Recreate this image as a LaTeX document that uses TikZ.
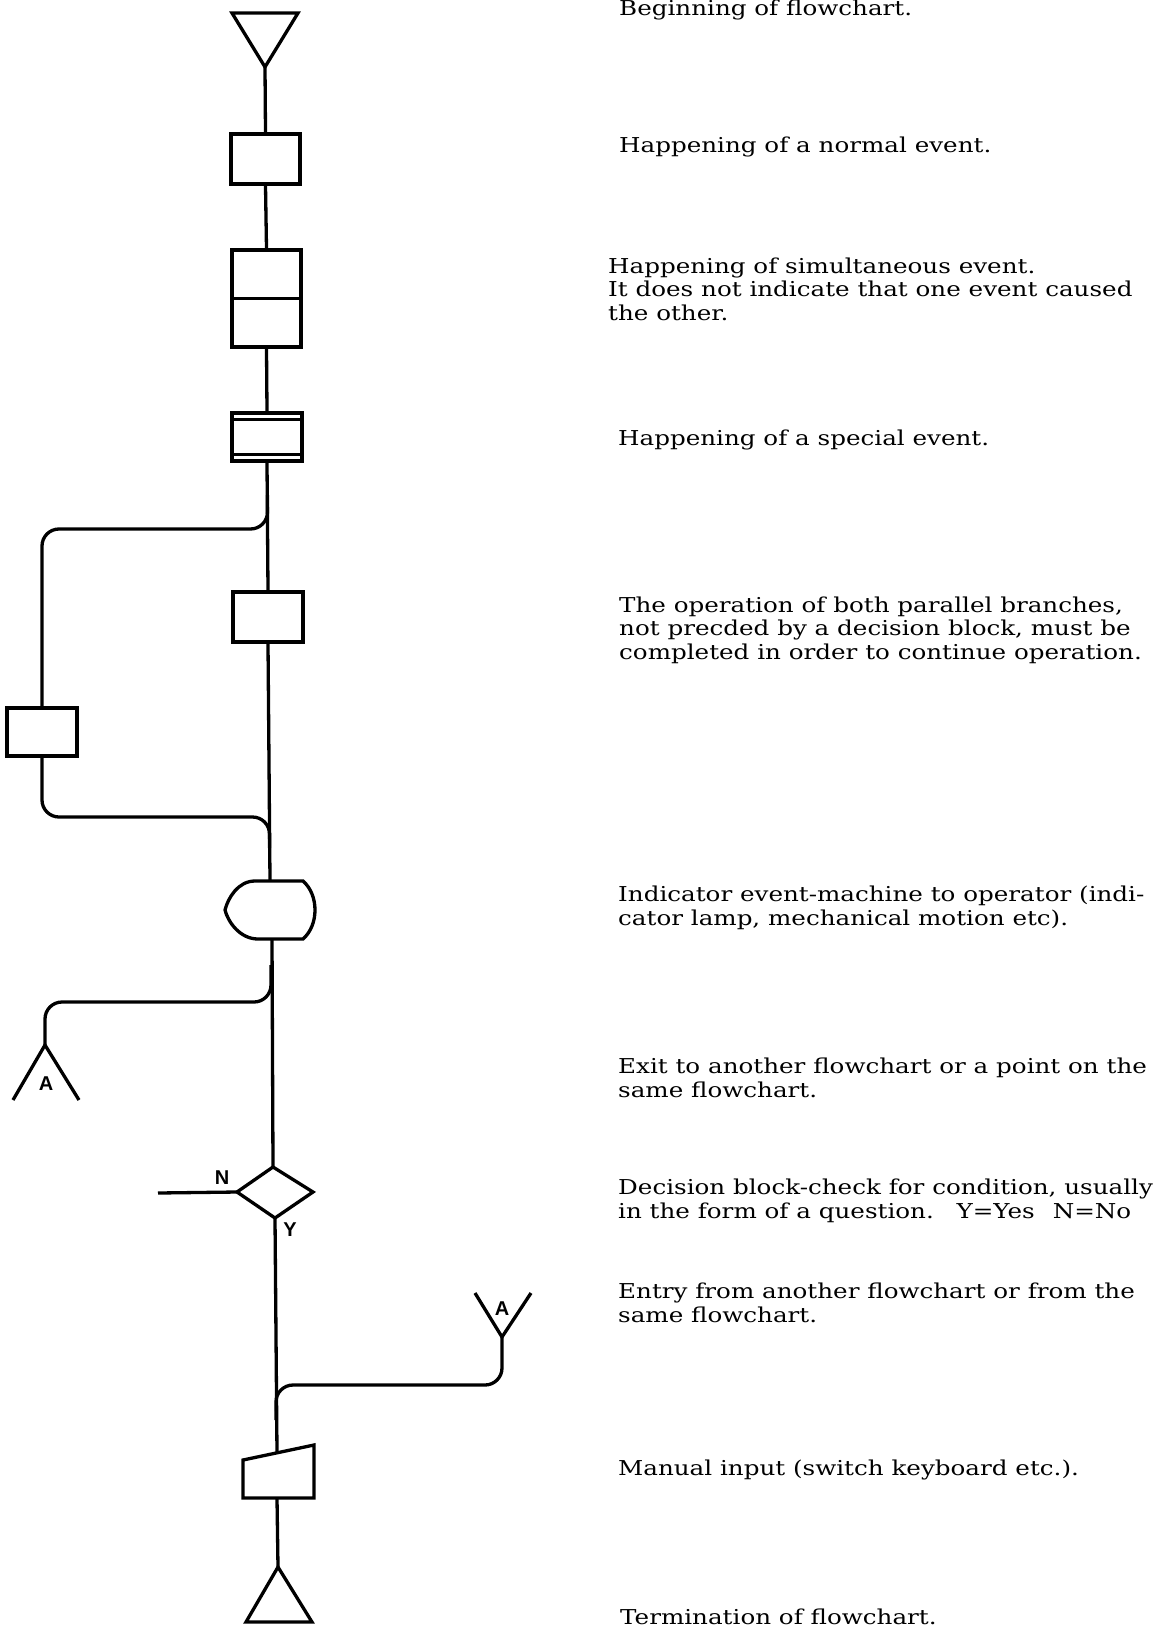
\documentclass[tikz,border=0pt]{standalone}
\usepackage{fontspec}
\setmainfont{DejaVu Serif}[FakeStretch=1.2]
\newfontfamily\labelfont{Liberation Sans}[BoldFont={Liberation Sans Bold}]
\begin{document}
\begin{tikzpicture}[x=1pt,y=-1pt,
  flow/.style={line width=3.3pt},
  box/.style={draw, line width=3.3pt, inner sep=0pt, minimum width=70, minimum height=50},
  desc/.style={anchor=base west, inner sep=0pt, align=left,
               font=\fontsize{20.5}{23.5}\selectfont},
  tag/.style={inner sep=0pt, font=\labelfont\bfseries\fontsize{20}{20}\selectfont}]
\useasboundingbox (0,0) rectangle (1174,1630);

% --- start symbol
\coordinate (stL) at (232,13);
\coordinate (stR) at (298,13);
\coordinate (start) at (265,67);
\draw[flow, line join=miter] (stL) -- (stR) -- (start) -- cycle;

% --- normal event
\node[box, minimum width=69] (b1) at (265.5,159) {};
% --- simultaneous events
\node[box, minimum width=69, minimum height=97] (b2) at (266.5,298.5) {};
\draw[flow] (b2.west) -- (b2.east);
% --- special event
\node[box, minimum height=48] (b3) at (267,437) {};
\draw[flow] ([yshift=-8pt]b3.north west) -- ([yshift=-8pt]b3.north east);
\draw[flow] ([yshift=8pt]b3.south west) -- ([yshift=8pt]b3.south east);

% --- parallel branches
\node[box] (rb) at (268,617) {};
\node[box, minimum height=48] (lb) at (42,732) {};
\coordinate (fork1) at (267.5,495);
\coordinate (join1) at (269.5,848);
\coordinate (c1) at (42,529);
\coordinate (c2) at (269.5,817);

% --- indicator
\coordinate (indN) at (270,881);
\coordinate (indS) at (272,939);
\coordinate (indTip) at (225,910);
\draw[flow] (303,881) -- (255,881)
  .. controls (238,881) and (228,898) .. (indTip)
  .. controls (228,922) and (240,939) .. (258,939)
  -- (303,939)
  .. controls (319,925) and (319,895) .. (303,881) -- cycle;

% --- exit connector
\coordinate (fork2) at (271,965);
\coordinate (c3) at (45,1002);
\coordinate (exA) at (45,1045);
\coordinate (exL) at (13,1100);
\coordinate (exR) at (79,1100);
\node[tag] (exLabel) at (46,1084) {A};

% --- decision
\coordinate (dN) at (273,1167);
\coordinate (dE) at (313,1192);
\coordinate (dS) at (275,1218);
\coordinate (dW) at (237,1192);
\coordinate (nOut) at (158,1193);
\draw[flow, line join=miter] (dN) -- (dE) -- (dS) -- (dW) -- cycle;
\node[tag] (nLabel) at (222,1178) {N};
\node[tag] (yLabel) at (290,1230) {Y};

% --- entry connector
\coordinate (enA) at (502,1337);
\coordinate (enL) at (475,1293);
\coordinate (enR) at (531,1293);
\coordinate (c4) at (276,1385);
\coordinate (join2) at (276,1420);
\node[tag] (enLabel) at (502,1309) {A};

% --- manual input
\coordinate (miN) at (277,1453);
\coordinate (miS) at (277,1498);
\draw[flow, line join=miter] (243,1460) -- (314,1445) -- (314,1498) -- (243,1498) -- cycle;

% --- termination
\coordinate (endT) at (278,1567);
\coordinate (endR) at (312,1622);
\coordinate (endL) at (246,1622);
\draw[flow, line join=miter] (endT) -- (endR) -- (endL) -- cycle;

% --- main line
\draw[flow] (start) -- (b1.north);
\draw[flow] (b1.south) -- (b2.north);
\draw[flow] (b2.south) -- (b3.north);
\draw[flow] (b3.south) -- (rb.north);
\draw[flow] (rb.south) -- (indN);
\draw[flow] (indS) -- (dN);
\draw[flow] (dW) -- (nOut);
\draw[flow] (dS) -- (miN);
\draw[flow] (miS) -- (endT);

% --- branch lines
\draw[flow, rounded corners=17] (fork1) |- (c1) -- (lb.north);
\draw[flow, rounded corners=17] (lb.south) |- (c2) -- (join1);
\draw[flow, rounded corners=17] (fork2) |- (c3) -- (exA);
\draw[flow] (exL) -- (exA) -- (exR);
\draw[flow, rounded corners=17] (enA) |- (c4) -- (join2);
\draw[flow] (enL) -- (enA) -- (enR);

% --- descriptions (anchored at the baseline of their last line)
\node[desc] (t1) at (619,15) {Beginning of flowchart.};
\node[desc] (t2) at (619,152) {Happening of a normal event.};
\node[desc] (t3) at (608,320) {Happening of simultaneous event.\\It does not indicate that one event caused\\the other.};
\node[desc] (t4) at (618,445) {Happening of a special event.};
\node[desc] (t5) at (619,659) {The operation of both parallel branches,\\not precded by a decision block, must be\\completed in order to continue operation.};
\node[desc] (t6) at (618,925) {Indicator event-machine to operator (indi-\\cator lamp, mechanical motion etc).};
\node[desc] (t7) at (618,1097) {Exit to another flowchart or a point on the\\same flowchart.};
\node[desc] (t8) at (618,1218) {Decision block-check for condition, usually\\in the form of a question.\hspace{0.6em} Y=Yes\hspace{0.5em} N=No};
\node[desc] (t9) at (618,1322) {Entry from another flowchart or from the\\same flowchart.};
\node[desc] (t10) at (618,1475) {Manual input (switch keyboard etc.).};
\node[desc] (t11) at (620,1624) {Termination of flowchart.};
\end{tikzpicture}
\end{document}
